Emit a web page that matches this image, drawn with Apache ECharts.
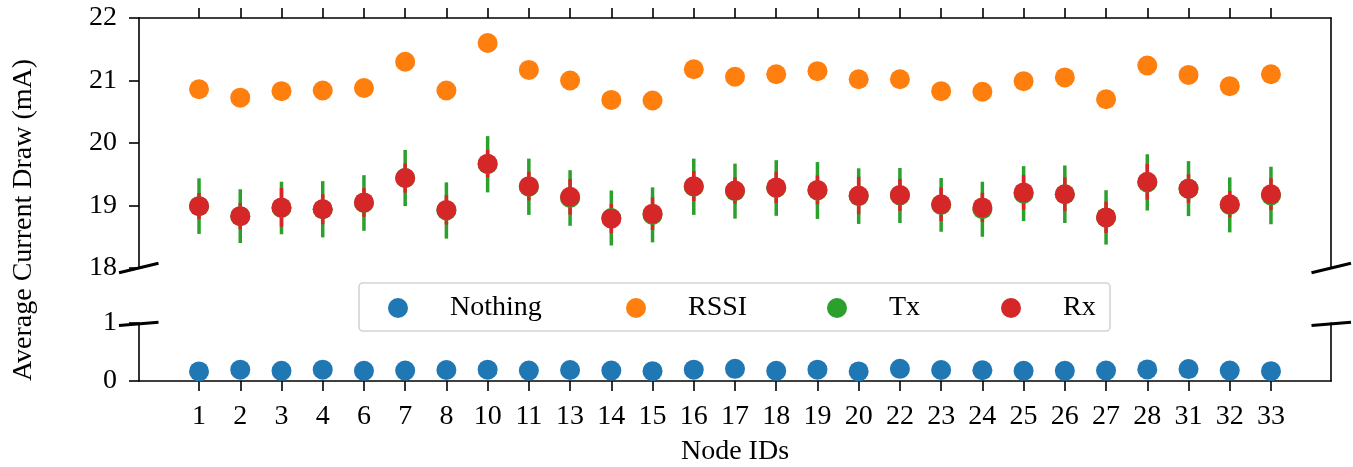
<!DOCTYPE html>
<html>
<head>
<meta charset="utf-8">
<script src="https://cdn.jsdelivr.net/npm/echarts@6/dist/echarts.min.js"></script>
<style>
  html, body { margin: 0; padding: 0; background: #fff; }
  #chart { width: 1353px; height: 467px; }
</style>
</head>
<body>
<div id="chart"></div>
<script>
// x categories
const nodeIds = [1, 2, 3, 4, 6, 7, 8, 10, 11, 13, 14, 15, 16, 17, 18, 19, 20, 22, 23, 24, 25, 26, 27, 28, 31, 32, 33]
// series values (mA)
const nothing = [0.165, 0.195, 0.175, 0.195, 0.175, 0.18, 0.19, 0.195, 0.18, 0.19, 0.18, 0.17, 0.195, 0.21, 0.175, 0.195, 0.165, 0.21, 0.19, 0.185, 0.175, 0.175, 0.18, 0.20, 0.205, 0.18, 0.17]
const rssi = [20.86, 20.725, 20.83, 20.84, 20.88, 21.30, 20.84, 21.60, 21.17, 21.00, 20.69, 20.68, 21.18, 21.06, 21.10, 21.15, 21.02, 21.02, 20.83, 20.82, 20.99, 21.05, 20.70, 21.24, 21.09, 20.91, 21.10]
const tx = [18.99, 18.83, 18.96, 18.94, 19.04, 19.44, 18.92, 19.66, 19.30, 19.12, 18.80, 18.85, 19.30, 19.23, 19.28, 19.24, 19.15, 19.16, 19.01, 18.94, 19.19, 19.18, 18.81, 19.37, 19.27, 19.01, 19.16]
const txErr = [0.445, 0.43, 0.42, 0.45, 0.445, 0.45, 0.45, 0.45, 0.45, 0.445, 0.44, 0.44, 0.45, 0.44, 0.445, 0.455, 0.445, 0.44, 0.43, 0.44, 0.44, 0.46, 0.435, 0.45, 0.44, 0.44, 0.46]
const rx = [18.99, 18.83, 18.97, 18.94, 19.05, 19.44, 18.93, 19.67, 19.31, 19.14, 18.79, 18.87, 19.31, 19.24, 19.29, 19.25, 19.16, 19.17, 19.02, 18.97, 19.21, 19.18, 18.81, 19.38, 19.27, 19.02, 19.18]
const rxErr = [0.21, 0.21, 0.31, 0.24, 0.23, 0.235, 0.235, 0.22, 0.23, 0.285, 0.235, 0.26, 0.24, 0.21, 0.25, 0.23, 0.30, 0.255, 0.27, 0.235, 0.275, 0.27, 0.25, 0.285, 0.23, 0.21, 0.255]
// y tick labels
const topTicks = [18, 19, 20, 21, 22]
const bottomTicks = [0, 1]

const FONT = 'Liberation Serif'
const FS = 28
const colors = { nothing: '#1f77b4', rssi: '#ff7f0e', tx: '#2ca02c', rx: '#d62728' }
const idx = nodeIds.map((_, i) => i)

const chart = echarts.init(document.getElementById('chart'), null, { renderer: 'canvas' })

// 误差棒
const errorBar = (color) => (params, api) => {
  const x = api.value(0)
  const y = api.value(1)
  const e = api.value(2)
  const p1 = api.coord([x, y + e])
  const p2 = api.coord([x, y - e])
  return {
    type: 'line',
    shape: { x1: p1[0], y1: p1[1], x2: p2[0], y2: p2[1] },
    style: { stroke: color, lineWidth: 3.5 }
  }
}

const spine = { show: true, onZero: false, lineStyle: { color: '#000', width: 1.6 } }
const xBase = {
  type: 'value',
  min: -1.456,
  max: 27.456,
  splitLine: { show: false },
  axisLine: spine,
  axisTick: { show: true, inside: false, length: 10, customValues: idx, lineStyle: { color: '#000', width: 1.6 } }
}

const legendAt = (name, cx) => ({
  data: [name],
  left: cx - 11,
  top: 294,
  padding: 0,
  itemWidth: 94,
  itemHeight: 20,
  icon: 'circle',
  selectedMode: false,
  textStyle: { fontFamily: FONT, fontSize: FS, color: '#000' }
})

const brk = (x1, y1, x2, y2) => ({
  type: 'line', z: 10,
  shape: { x1, y1, x2, y2 },
  style: { stroke: '#000', lineWidth: 3 }
})

const option = {
  animation: false,
  backgroundColor: '#fff',
  grid: [
    { left: 139, right: 22, top: 18, height: 250 },
    { left: 139, right: 22, top: 323, height: 63 }
  ],
  xAxis: [
    Object.assign({}, xBase, { gridIndex: 0, position: 'top', axisLabel: { show: false } }),
    Object.assign({}, xBase, {
      gridIndex: 1,
      position: 'bottom',
      name: 'Node IDs',
      nameLocation: 'middle',
      nameGap: 57,
      nameTextStyle: { fontFamily: FONT, fontSize: FS, color: '#000' },
      axisLabel: {
        customValues: idx,
        margin: 22,
        fontFamily: FONT, fontSize: FS, color: '#000',
        formatter: (v) => String(nodeIds[Math.round(v)])
      }
    })
  ],
  yAxis: [
    {
      type: 'value', gridIndex: 0, min: topTicks[0], max: topTicks[topTicks.length - 1], interval: 1,
      splitLine: { show: false }, axisLine: spine,
      axisTick: { show: true, length: 10, lineStyle: { color: '#000', width: 1.6 } },
      axisLabel: { margin: 22, fontFamily: FONT, fontSize: FS, color: '#000' }
    },
    {
      type: 'value', gridIndex: 0, position: 'right', min: 18, max: 22,
      splitLine: { show: false }, axisLine: spine, axisTick: { show: false }, axisLabel: { show: false }
    },
    {
      type: 'value', gridIndex: 1, min: bottomTicks[0], max: bottomTicks[1], interval: 1,
      splitLine: { show: false }, axisLine: spine,
      axisTick: { show: true, length: 10, lineStyle: { color: '#000', width: 1.6 } },
      axisLabel: { margin: 22, fontFamily: FONT, fontSize: FS, color: '#000' }
    },
    {
      type: 'value', gridIndex: 1, position: 'right', min: 0, max: 1,
      splitLine: { show: false }, axisLine: spine, axisTick: { show: false }, axisLabel: { show: false }
    }
  ],
  legend: [
    legendAt('Nothing', 399),
    legendAt('RSSI', 637),
    legendAt('Tx', 838),
    legendAt('Rx', 1012)
  ],
  graphic: [
    {
      type: 'rect', z: 3,
      shape: { x: 359, y: 283, width: 751, height: 48, r: 4 },
      style: { fill: 'rgba(255,255,255,0.8)', stroke: '#d4d4d4', lineWidth: 1.6 }
    },
    {
      type: 'text', x: 24, y: 220, rotation: Math.PI / 2,
      style: {
        text: 'Average Current Draw (mA)', fontFamily: FONT, fontSize: FS, fill: '#000',
        align: 'center', verticalAlign: 'middle'
      }
    },
    // 断轴标记
    brk(119, 272.7, 158.5, 263.3),
    brk(119, 325.5, 158.5, 322.3),
    brk(1311.5, 272.7, 1351, 263.3),
    brk(1311.5, 325.5, 1351, 322.3)
  ],
  series: [
    {
      name: 'Nothing', type: 'scatter', xAxisIndex: 1, yAxisIndex: 2,
      symbolSize: 20, itemStyle: { color: colors.nothing, opacity: 1 },
      data: nothing.map((v, i) => [i, v])
    },
    {
      name: 'RSSI', type: 'scatter', xAxisIndex: 0, yAxisIndex: 0,
      symbolSize: 20, itemStyle: { color: colors.rssi, opacity: 1 },
      data: rssi.map((v, i) => [i, v])
    },
    {
      name: 'Tx err', type: 'custom', xAxisIndex: 0, yAxisIndex: 0,
      renderItem: errorBar(colors.tx), encode: { x: 0, y: 1 },
      data: tx.map((v, i) => [i, v, txErr[i]])
    },
    {
      name: 'Tx', type: 'scatter', xAxisIndex: 0, yAxisIndex: 0,
      symbolSize: 20, itemStyle: { color: colors.tx, opacity: 1 },
      data: tx.map((v, i) => [i, v])
    },
    {
      name: 'Rx err', type: 'custom', xAxisIndex: 0, yAxisIndex: 0,
      renderItem: errorBar(colors.rx), encode: { x: 0, y: 1 },
      data: rx.map((v, i) => [i, v, rxErr[i]])
    },
    {
      name: 'Rx', type: 'scatter', xAxisIndex: 0, yAxisIndex: 0,
      symbolSize: 20, itemStyle: { color: colors.rx, opacity: 1 },
      data: rx.map((v, i) => [i, v])
    }
  ]
}

chart.setOption(option)
</script>
</body>
</html>
